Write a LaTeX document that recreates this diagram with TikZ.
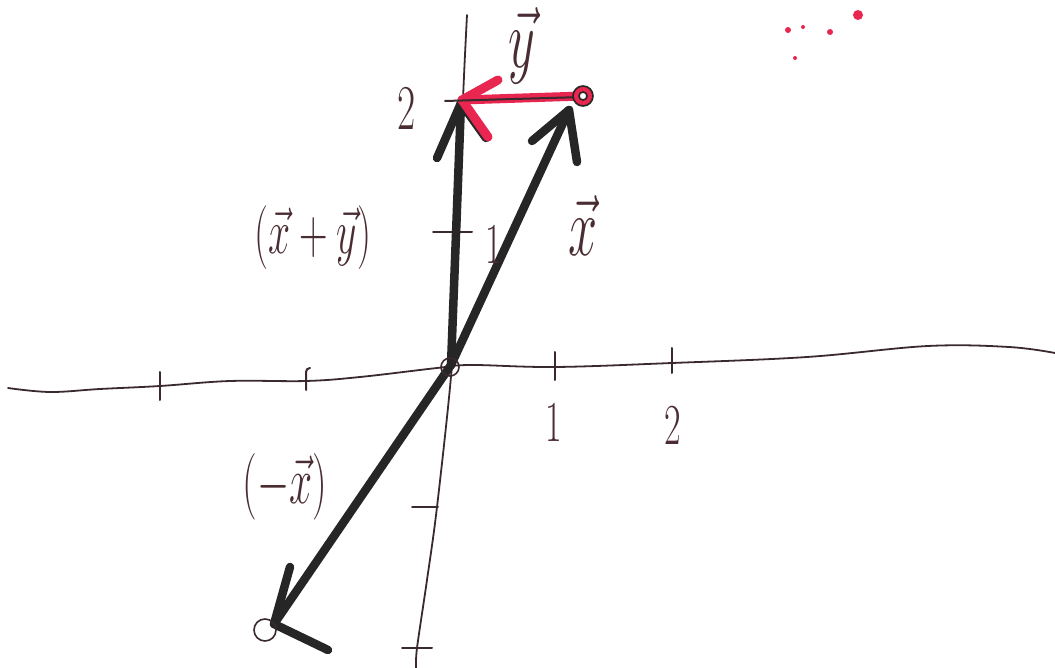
\RequirePackage{fix-cm}
\documentclass[tikz,border=0pt]{standalone}
\usepackage{graphicx}
\definecolor{ink}{HTML}{262626}
\definecolor{pen}{HTML}{3B2A2D}
\definecolor{lab}{HTML}{4A2D33}
\definecolor{marker}{HTML}{E8264F}
\newcommand{\hw}[2]{\fontsize{#1}{#1}\selectfont\scalebox{0.9}[1.45]{#2}}
\tikzset{
  axisline/.style={draw=pen, line width=1.8pt, line cap=round},
  tickline/.style={draw=pen, line width=2pt, line cap=round},
  vecline/.style={draw=ink, line width=8.5pt, line cap=round, line join=round},
  redline/.style={draw=marker, line width=9pt, line cap=round, line join=round},
  ring/.style={draw=#1, line width=1.6pt},
  lbl/.style={text=lab, inner sep=0pt},
}
\begin{document}
\begin{tikzpicture}[x=1pt,y=-1pt]
\useasboundingbox[fill=white] (0,0) rectangle (1055,668);

% key points
\coordinate (O) at (451,365);
\coordinate (S) at (461,103);
\coordinate (Sw1) at (437,158);
\coordinate (Sw2) at (486,138);
\coordinate (X) at (569,110);
\coordinate (Xw1) at (532,141);
\coordinate (Xw2) at (577,162);
\coordinate (P) at (583,96);
\coordinate (Y) at (462,100);
\coordinate (Yw1) at (498,80);
\coordinate (Yw2) at (488,137);
\coordinate (N) at (274,624);
\coordinate (Nw1) at (290,567);
\coordinate (Nw2) at (328,650);

% axes
\draw[axisline] plot[smooth, tension=0.6] coordinates {(8,388) (50,392) (100,389) (160,386) (230,381) (306,381) (360,377) (437,368) (471,365) (555,367) (672,363) (807,357) (928,346) (1009,347) (1055,353)};
\draw[axisline] plot[smooth, tension=0.5] coordinates {(467,15) (463,100) (459,233) (452,365) (437,507) (427,580) (417,648) (416,668)};

% ticks on x axis
\draw[tickline] (160,372) -- (160,400);
\draw[tickline] (306,390) -- (306,372) to[out=90,in=180] (310,368);
\draw[tickline] (555,352) -- (555,380);
\draw[tickline] (672,348) -- (672,373);
% ticks on y axis
\draw[tickline] (433,232) -- (472,232);
\draw[tickline] (412,507) -- (438,507);
\draw[tickline] (402,648) -- (432,648);

% vectors
\draw[vecline] (O) -- (S);
\draw[vecline] (S) -- (Sw1);
\draw[vecline] (S) -- (Sw2);
\draw[vecline] (O) -- (X);
\draw[vecline] (X) -- (Xw1);
\draw[vecline] (X) -- (Xw2);
\draw[vecline] (O) -- (N);
\draw[vecline] (N) -- (Nw1);
\draw[vecline] (N) -- (Nw2);
\draw[redline] (P) -- (Y);
\draw[redline] (Y) -- (Yw1);
\draw[redline] (Y) -- (Yw2);
\draw[tickline] (445,101) -- (583,97);

% rings
\draw[ring=ink, fill=marker] (P) circle[radius=10];
\draw[ring=ink, fill=white] (P) circle[radius=4];
\draw[ring=pen] (450,367) circle[radius=9];
\draw[ring=pen] (265,630) circle[radius=11];

% labels
\node[lbl] (ly) at (522,46) {\hw{58}{$\vec{y}$}};
\node[lbl] (lsum) at (313,238) {\hw{44}{$(\vec{x}+\vec{y})$}};
\node[lbl] (lx) at (583,226) {\hw{58}{$\vec{x}$}};
\node[lbl] (lnx) at (285,487) {\hw{46}{$(-\vec{x})$}};
\node[lbl] (l2y) at (407,108) {\hw{44}{2}};
\node[lbl] (l1y) at (494,244) {\hw{40}{1}};
\node[lbl] (l1x) at (554,422) {\hw{40}{1}};
\node[lbl] (l2x) at (673,425) {\hw{40}{2}};

% stray marker dots
\fill[marker] (858,15) circle[radius=5];
\fill[marker] (788,30) circle[radius=3];
\fill[marker] (830,32) circle[radius=3];
\fill[marker] (803,27) circle[radius=2];
\fill[marker] (795,58) circle[radius=2];
\end{tikzpicture}
\end{document}
